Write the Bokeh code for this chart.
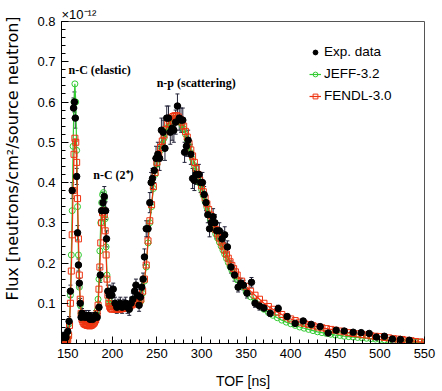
from bokeh.plotting import figure
from bokeh.models import (Range1d, FixedTicker, Label, Legend, LegendItem,
                          Whisker, ColumnDataSource, TeeHead)
from bokeh.embed import file_html
from bokeh.resources import INLINE

# ---------------- data (flux in units of 1e-12 neutrons/cm2/source neutron) ----
T_MODEL = [143, 145, 147, 148, 149,
           150, 151, 152, 153, 154, 155, 156, 157, 158, 159,
           160, 161, 162, 163, 164, 165, 166, 167, 168, 169,
           170, 171, 172, 173, 174, 175, 176, 177, 178, 179,
           180, 181, 182, 183, 184, 185, 186, 187, 188, 189,
           190, 191, 192, 193, 194, 195, 196, 197, 198, 199, 200,
           202, 204, 206, 208, 210, 212, 214, 216, 218, 220, 222, 224, 226, 228, 230,
           232, 234, 236, 238, 240, 242, 244, 246, 248, 250, 252, 254, 256, 258, 260,
           262, 264, 266, 268, 270, 272, 274, 276, 278, 280, 282, 284, 286, 288, 290,
           292, 294, 296, 298, 300, 302, 304, 306, 308, 310, 312, 314, 316, 318, 320,
           322, 324, 326, 328, 330, 332, 334, 336, 338, 340,
           345, 350, 355, 360, 365, 370, 375, 380, 385, 390,
           395, 400, 405, 410, 415, 420, 425, 430, 435, 440,
           445, 450, 455, 460, 465, 470, 475, 480, 485, 490,
           495, 500, 505, 510, 515, 520, 525, 530, 535, 540,
           545, 550]

JEFF = [.004, .004, .005, .006, .008,
        .012, .022, .05, .12, .22, .33, .49, .60, .645, .60,
        .48, .34, .22, .14, .095, .075, .066, .061, .058, .056,
        .055, .054, .053, .052, .052, .051, .051, .052, .053, .055,
        .058, .063, .07, .082, .11, .16, .23, .30, .35, .37,
        .375, .36, .31, .24, .17, .13, .11, .10, .096, .094, .093,
        .091, .09, .09, .09, .09, .091, .092, .093, .095, .097, .099, .10, .10, .10, .10,
        .105, .125, .155, .19, .25, .30, .34, .385, .42, .445, .465, .48, .495, .51, .525,
        .537, .547, .554, .558, .56, .56, .557, .55, .543, .533, .52, .506, .49, .474, .458,
        .442, .427, .412, .398, .383, .368, .353, .338, .323, .308, .295, .283, .272, .262, .252,
        .242, .232, .222, .211, .201, .191, .182, .174, .166, .158,
        .142, .128, .116, .104, .094, .085, .077, .07, .064, .058,
        .053, .049, .045, .041, .038, .035, .032, .029, .027, .025,
        .023, .021, .02, .018, .017, .016, .015, .014, .013, .012,
        .011, .01, .009, .008, .007, .006, .005, .005, .004, .003,
        .003, .002]

FENDL = [.003, .003, .004, .005, .007,
         .01, .02, .045, .10, .18, .27, .38, .47, .51, .50,
         .45, .36, .26, .17, .11, .075, .06, .054, .05, .048,
         .047, .046, .045, .045, .044, .044, .045, .046, .048, .05,
         .053, .058, .064, .075, .095, .135, .19, .25, .30, .325,
         .33, .32, .28, .22, .16, .12, .10, .092, .088, .086, .085,
         .086, .085, .085, .085, .086, .087, .088, .09, .092, .094, .096, .098, .10, .102, .104,
         .11, .13, .16, .195, .255, .305, .345, .39, .425, .45, .47, .487, .503, .518, .532,
         .545, .553, .56, .564, .566, .566, .563, .557, .55, .54, .527, .513, .497, .481, .466,
         .45, .435, .42, .406, .392, .377, .362, .347, .333, .319, .306, .294, .283, .272, .262,
         .252, .242, .232, .222, .212, .203, .194, .186, .178, .17,
         .155, .142, .13, .12, .11, .10, .092, .085, .078, .072,
         .066, .061, .057, .053, .05, .047, .044, .041, .039, .037,
         .035, .033, .031, .029, .027, .025, .024, .022, .021, .019,
         .018, .017, .015, .014, .012, .011, .01, .008, .007, .005,
         .004, .003]

T_EXP = [144, 146, 148, 150, 151.5, 153, 155, 156.5, 157.5, 158.5,
         160, 161, 162, 163, 164, 165, 166, 167.5, 169, 170.5,
         172, 173.5, 175, 176.5, 178, 179.5, 181, 183, 185, 186.5,
         188, 189.5, 191, 192.5, 193.5, 195, 196.5, 198, 199.5, 201,
         203, 205, 207, 209, 211, 213, 215, 217, 219, 221,
         223, 225, 226.5, 228, 230, 231.5, 233, 234.5, 236, 238,
         240, 242, 243.5, 245, 247, 249, 251, 253, 255, 257,
         259, 261, 263, 265, 267, 269, 271, 273, 275, 277,
         279, 281, 283, 285, 288, 290, 292, 294, 297, 299,
         301, 303, 305, 307, 309, 311, 313, 315, 317, 320,
         323, 326, 329, 333, 337, 341, 344, 347, 351, 356,
         360, 365, 370, 377, 386, 396, 405, 414, 423, 433,
         442, 451, 460, 470, 479, 488, 496, 505, 514, 523,
         533]

Y_EXP = [.015, .02, .015, .03, .055, .13, .38, .585, .60, .56,
         .415, .275, .195, .15, .10, .065, .075, .07, .065, .07,
         .065, .07, .06, .065, .06, .065, .07, .065, .09, .17,
         .33, .35, .365, .33, .26, .13, .12, .13, .12, .135,
         .10, .09, .095, .10, .09, .095, .10, .09, .085, .10,
         .11, .13, .145, .12, .095, .115, .14, .16, .215, .285,
         .285, .35, .40, .41, .43, .46, .47, .46, .53, .525,
         .485, .56, .56, .525, .535, .53, .55, .59, .56, .555,
         .555, .475, .49, .505, .47, .41, .405, .42, .42, .40,
         .40, .37, .35, .32, .285, .30, .315, .30, .28, .28,
         .26, .27, .24, .19, .17, .14, .15, .145, .125, .152,
         .10, .093, .088, .075, .087, .067, .05, .056, .0475, .042,
         .026, .033, .031, .028, .027, .025, .016, .018, .011, .01,
         .008]

E_EXP = [.008, .008, .008, .01, .012, .015, .02, .025, .025, .025,
         .02, .018, .015, .012, .012, .012, .012, .012, .012, .012,
         .012, .012, .012, .012, .012, .012, .012, .012, .015, .018,
         .025, .025, .025, .022, .02, .015, .015, .015, .015, .015,
         .015, .015, .015, .015, .015, .015, .015, .015, .015, .015,
         .015, .015, .015, .015, .015, .015, .015, .015, .02, .02,
         .02, .025, .025, .025, .03, .03, .03, .03, .03, .03,
         .03, .03, .03, .03, .03, .03, .03, .03, .03, .03,
         .03, .025, .025, .025, .025, .025, .025, .025, .025, .025,
         .025, .02, .02, .02, .02, .02, .02, .02, .02, .02,
         .02, .02, .015, .015, .015, .012, .012, .012, .012, .012,
         .01, .01, .008, .008, .008, .006, .006, .006, .005, .005,
         .004, .004, .004, .004, .004, .004, .003, .003, .003, .003,
         .003]

X_TICKS = [150, 200, 250, 300, 350, 400, 450, 500, 550]
Y_TICKS = [0.1, 0.2, 0.3, 0.4, 0.5, 0.6, 0.7, 0.8]

GREEN = "#33cc33"
RED = "#ee3311"
SANS = "Liberation Sans"
SERIF = "Liberation Serif"

# ---------------- figure ----------------
p = figure(frame_width=363, frame_height=322,
           min_border_left=61, min_border_right=14,
           min_border_top=21, min_border_bottom=47,
           x_range=Range1d(143, 550), y_range=Range1d(0, 0.8),
           output_backend="svg", toolbar_location=None,
           background_fill_color="white", border_fill_color="white",
           title="\u00d710\u207b\u00b9\u00b2")

p.title.text_font = SANS
p.title.text_font_size = "13px"
p.title.text_font_style = "normal"
p.title.text_color = "black"
p.title.align = "left"
p.title.offset = 0
p.title.standoff = 0

p.xgrid.visible = False
p.ygrid.visible = False
p.outline_line_color = "#555555"
p.outline_line_width = 1

p.xaxis.ticker = FixedTicker(ticks=X_TICKS,
                             minor_ticks=list(range(150, 551, 10)))
p.yaxis.ticker = FixedTicker(ticks=Y_TICKS,
                             minor_ticks=[i / 50 for i in range(1, 41)])
p.yaxis.major_label_overrides = {t: f"{t:.1f}" for t in Y_TICKS}

for ax in (p.xaxis[0], p.yaxis[0]):
    ax.major_tick_in = 7
    ax.major_tick_out = 0
    ax.minor_tick_in = 4
    ax.minor_tick_out = 0
    ax.axis_line_color = "black"
    ax.major_tick_line_color = "black"
    ax.minor_tick_line_color = "black"
    ax.major_label_text_font = SANS
    ax.major_label_text_font_size = "13px"
    ax.major_label_text_color = "black"
    ax.axis_label_text_font_style = "normal"
    ax.axis_label_text_color = "black"

p.xaxis.axis_label = "TOF [ns]"
p.xaxis.axis_label_text_font = SANS
p.xaxis.axis_label_text_font_size = "14px"
p.xaxis.major_label_standoff = 5
p.xaxis.axis_label_standoff = 12

# leading em-spaces shift the visible title upward, as in the reference
p.yaxis.axis_label = "\u2003\u2003\u2003Flux [neutrons/cm\u00b2/source neutron]"
p.yaxis.axis_label_text_font = "DejaVu Sans"
p.yaxis.axis_label_text_font_size = "16px"
p.yaxis.major_label_standoff = 6
p.yaxis.axis_label_standoff = 12

# ---------------- series ----------------
jeff_line = p.line(T_MODEL, JEFF, line_color=GREEN, line_width=1.2)
jeff_pts = p.scatter(T_MODEL, JEFF, marker="circle", size=6,
                     line_color=GREEN, fill_color=None, line_width=1)
fendl_line = p.line(T_MODEL, FENDL, line_color=RED, line_width=1.2)
fendl_pts = p.scatter(T_MODEL, FENDL, marker="square", size=6,
                      line_color=RED, fill_color=None, line_width=1)

err_src = ColumnDataSource(dict(
    base=T_EXP,
    upper=[y + e for y, e in zip(Y_EXP, E_EXP)],
    lower=[y - e for y, e in zip(Y_EXP, E_EXP)]))
p.add_layout(Whisker(source=err_src, base="base", upper="upper", lower="lower",
                     line_color="#222238", line_width=1,
                     upper_head=TeeHead(size=4, line_color="#222238"),
                     lower_head=TeeHead(size=4, line_color="#222238")))
exp_pts = p.scatter(T_EXP, Y_EXP, marker="circle", size=6.5,
                    fill_color="black", line_color="black")

# ---------------- annotations ----------------
ann_style = dict(text_font=SERIF, text_font_style="bold",
                 text_font_size="12px", text_color="black",
                 text_baseline="alphabetic")
p.add_layout(Label(x=150.8, y=0.68, text="n-C (elastic)", **ann_style))
p.add_layout(Label(x=178.6, y=0.4175, text="n-C (2\u207a)", **ann_style))
p.add_layout(Label(x=249.7, y=0.6475, text="n-p (scattering)", **ann_style))

# ---------------- legend ----------------
legend = Legend(items=[
    LegendItem(label="Exp. data", renderers=[exp_pts]),
    LegendItem(label="JEFF-3.2", renderers=[jeff_line, jeff_pts]),
    LegendItem(label="FENDL-3.0", renderers=[fendl_line, fendl_pts]),
], location=(248, 240))
legend.label_text_font = SANS
legend.label_text_font_size = "13.5px"
legend.label_text_color = "black"
legend.glyph_width = 12
legend.glyph_height = 14
legend.label_height = 14
legend.label_standoff = 3
legend.spacing = 7
legend.padding = 0
legend.margin = 0
legend.border_line_alpha = 0
legend.background_fill_alpha = 0
p.add_layout(legend, "center")

open("out.html", "w").write(file_html(p, INLINE))
